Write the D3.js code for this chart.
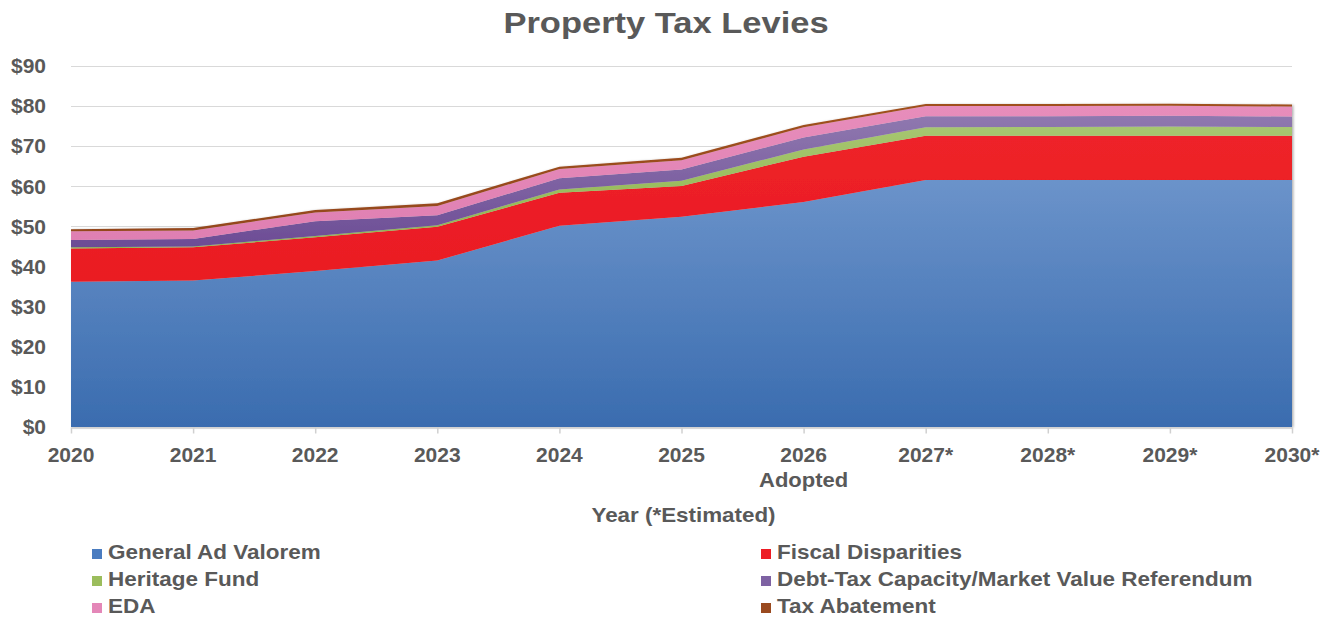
<!DOCTYPE html>
<html>
<head>
<meta charset="utf-8">
<script src="https://cdn.jsdelivr.net/npm/d3@7"></script>
<style>
  html, body { margin: 0; padding: 0; background: #fff; }
  svg { display: block; font-family: "Liberation Sans", Arial, sans-serif; }
</style>
</head>
<body>
<svg id="chart" width="1332" height="620"></svg>
<script>
// Property tax levies by year, $ millions (stacked)
const years = ["2020", "2021", "2022", "2023", "2024", "2025", "2026", "2027*", "2028*", "2029*", "2030*"];
const yearSubLabels = ["", "", "", "", "", "", "Adopted", "", "", "", ""];
const generalAdValorem   = [36.2, 36.5, 38.9, 41.5, 50.2, 52.4, 56.1, 61.6, 61.6, 61.6, 61.6];
const fiscalDisparities  = [8.3, 8.3, 8.4, 8.4, 8.2, 7.7, 11.3, 11.0, 11.0, 11.0, 11.0];
const heritageFund       = [0.3, 0.2, 0.3, 0.4, 0.8, 1.3, 1.8, 2.1, 2.2, 2.3, 2.2];
const debtTaxCapacity    = [1.8, 1.9, 3.7, 2.5, 2.8, 2.8, 3.0, 2.8, 2.7, 2.7, 2.6];
const eda                = [2.2, 2.1, 2.2, 2.3, 2.3, 2.3, 2.5, 2.5, 2.5, 2.5, 2.5];
const taxAbatement       = [0.5, 0.6, 0.6, 0.7, 0.6, 0.6, 0.6, 0.5, 0.5, 0.5, 0.5];
const yTicks = [0, 10, 20, 30, 40, 50, 60, 70, 80, 90];

const seriesDefs = [
  { key: "gav",  name: "General Ad Valorem", values: generalAdValorem,  top: "#6b93ca", bottom: "#3a6caf", swatch: "#4a7cc0" },
  { key: "fd",   name: "Fiscal Disparities", values: fiscalDisparities, top: "#ee2229", bottom: "#ea1b23", swatch: "#ed1c24" },
  { key: "hf",   name: "Heritage Fund",      values: heritageFund,      top: "#a6c670", bottom: "#8fb44d", swatch: "#9bbd5c" },
  { key: "debt", name: "Debt-Tax Capacity/Market Value Referendum", values: debtTaxCapacity, top: "#8f78af", bottom: "#6c4c95", swatch: "#7e62a3" },
  { key: "eda",  name: "EDA",                values: eda,               top: "#e78dbb", bottom: "#df7fb2", swatch: "#e487b8" },
  { key: "ta",   name: "Tax Abatement",      values: taxAbatement,      top: "#a0501f", bottom: "#94461c", swatch: "#9a4a1f" }
];

const textColor = "#595959";
const svg = d3.select("#chart");
const defs = svg.append("defs");

const plot = { left: 71, right: 1292, top: 66, bottom: 427 };

const x = d3.scalePoint().domain(years).range([plot.left, plot.right]);
const y = d3.scaleLinear().domain([0, 90]).range([plot.bottom, plot.top]);

// Bold label with a slightly widened face
function wideText(parent, px, py, str, size, sx, anchor) {
  return parent.append("text")
    .attr("transform", `translate(${px},${py}) scale(${sx},1)`)
    .attr("text-anchor", anchor)
    .attr("font-size", size).attr("font-weight", "bold")
    .attr("fill", textColor)
    .text(str);
}

// Table for the stack generator
const rows = years.map((yr, i) => {
  const r = { year: yr };
  seriesDefs.forEach(s => { r[s.key] = s.values[i]; });
  return r;
});
const stacked = d3.stack().keys(seriesDefs.map(s => s.key))(rows);

// Title
wideText(svg, 666, 33, "Property Tax Levies", 30, 1.15, "middle");

// Horizontal gridlines
svg.append("g")
  .selectAll("line")
  .data(yTicks.filter(t => t > 0))
  .join("line")
  .attr("x1", plot.left).attr("x2", plot.right)
  .attr("y1", d => Math.round(y(d)) + 0.5).attr("y2", d => Math.round(y(d)) + 0.5)
  .attr("stroke", "#d9d9d9").attr("stroke-width", 1);

// Y axis labels
const yAxis = d3.axisLeft(y).tickValues(yTicks).tickFormat(d => "$" + d).tickSize(0).tickPadding(0);
const yg = svg.append("g").attr("transform", `translate(${46},0)`).call(yAxis);
yg.select(".domain").remove();
yg.selectAll("text")
  .attr("font-size", 21).attr("font-weight", "bold")
  .attr("fill", textColor).attr("font-family", "Liberation Sans, Arial, sans-serif");

// Gradients per series
seriesDefs.forEach(s => {
  const g = defs.append("linearGradient").attr("id", "grad-" + s.key)
    .attr("x1", 0).attr("y1", 0).attr("x2", 0).attr("y2", 1);
  g.append("stop").attr("offset", "0%").attr("stop-color", s.top);
  g.append("stop").attr("offset", "100%").attr("stop-color", s.bottom);
});

// Soft shadow under the stacked areas
const shadow = defs.append("filter").attr("id", "areaShadow")
  .attr("x", "-2%").attr("y", "-5%").attr("width", "104%").attr("height", "110%");
shadow.append("feDropShadow").attr("dx", 1.5).attr("dy", 0.5)
  .attr("stdDeviation", 1).attr("flood-color", "#000").attr("flood-opacity", 0.3);

const area = d3.area()
  .x((d, i) => x(years[i]))
  .y0(d => y(d[0]))
  .y1(d => y(d[1]));

svg.append("g").attr("filter", "url(#areaShadow)")
  .selectAll("path")
  .data(stacked)
  .join("path")
  .attr("d", area)
  .attr("fill", (d, i) => `url(#grad-${seriesDefs[i].key})`);

// X axis
const xAxis = d3.axisBottom(x).tickSize(6).tickSizeOuter(0).tickPadding(0).tickFormat("");
const xg = svg.append("g").attr("transform", `translate(0,${plot.bottom + 0.5})`).call(xAxis);
xg.select(".domain").attr("stroke", "#d0d0d0").attr("stroke-width", 1.5);
xg.selectAll(".tick line").attr("stroke", "#d0d0d0").attr("stroke-width", 1.5);

const xLabels = svg.append("g");
xLabels.selectAll("text.yr")
  .data(years)
  .join("text")
  .attr("class", "yr")
  .attr("x", d => x(d)).attr("y", 462)
  .attr("text-anchor", "middle")
  .attr("font-size", 21).attr("font-weight", "bold")
  .attr("fill", textColor)
  .text(d => d);
years.forEach((yr, i) => {
  if (yearSubLabels[i]) wideText(xLabels, x(yr), 487, yearSubLabels[i], 20, 1.1, "middle");
});

// Axis title
wideText(svg, (plot.left + plot.right) / 2 + 2, 522, "Year (*Estimated)", 20, 1.12, "middle");

// Legend: two columns, three rows
const legendCols = [92, 761];
const legendRows = [559, 586, 613];
const lg = svg.append("g")
  .selectAll("g")
  .data(seriesDefs)
  .join("g")
  .attr("transform", (d, i) => `translate(${legendCols[i % 2]},${legendRows[Math.floor(i / 2)]})`);
lg.append("rect")
  .attr("x", 0).attr("y", -10).attr("width", 10).attr("height", 10)
  .attr("fill", d => d.swatch);
lg.each(function (d) {
  wideText(d3.select(this), 16, 0, d.name, 20, 1.125, "start");
});
</script>
</body>
</html>
